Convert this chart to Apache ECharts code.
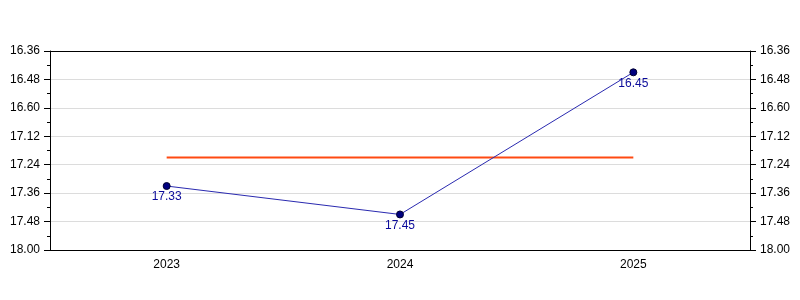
<!DOCTYPE html>
<html><head><meta charset="utf-8">
<script src="https://cdn.jsdelivr.net/npm/echarts@6/dist/echarts.min.js"></script>
<style>html,body{margin:0;padding:0;background:#fff}#c{width:800px;height:300px}</style>
</head><body><div id="c"></div>
<script>
var categories = ['2023', '2024', '2025'];
var times = [17.33, 17.45, 16.45];          // mm.ss
var targetTime = [17.21, 17.21, 17.21];     // mm.ss
var tickLabels = ['16.36', '16.48', '16.60', '17.12', '17.24', '17.36', '17.48', '18.00'];
var yMinSec = 996, yMaxSec = 1080, yStepSec = 12;

function toSec(v) { var m = Math.floor(v); return m * 60 + Math.round((v - m) * 100); }
var timeSec = times.map(toSec);
var targetSec = targetTime.map(toSec);

function fmt(v) {
  var i = Math.round((v - yMinSec) / yStepSec);
  return tickLabels[i] !== undefined ? tickLabels[i] : '';
}
var font = 'Liberation Sans, Arial, sans-serif';
function yAxis(pos) {
  return {
    type: 'value', position: pos, inverse: true,
    min: yMinSec, max: yMaxSec, interval: yStepSec,
    axisLine: { show: true, lineStyle: { color: '#000', width: 1 } },
    axisTick: { show: true, inside: false, length: 6, lineStyle: { color: '#000' } },
    minorTick: { show: true, splitNumber: 2, length: 3, lineStyle: { color: '#000' } },
    splitLine: { show: pos === 'left', lineStyle: { color: '#dcdcdc', width: 1 } },
    axisLabel: { formatter: fmt, color: '#000', fontSize: 12, fontFamily: font, margin: 10 }
  };
}
var chart = echarts.init(document.getElementById('c'), null, { renderer: 'canvas' });
chart.setOption({
  animation: false,
  backgroundColor: '#fff',
  grid: { left: 50, right: 50, top: 51, bottom: 50 },
  xAxis: [{
    type: 'category', data: categories, boundaryGap: true,
    axisLine: { lineStyle: { color: '#000' } },
    axisTick: { alignWithLabel: true, length: 5, lineStyle: { color: '#000' } },
    axisLabel: { color: '#000', fontSize: 12, fontFamily: font, margin: 9 }
  }, {
    type: 'category', data: categories, position: 'top',
    axisLine: { show: true, lineStyle: { color: '#000' } },
    axisTick: { show: false }, axisLabel: { show: false }, splitLine: { show: false }
  }],
  yAxis: [yAxis('left'), yAxis('right')],
  series: [
    {
      type: 'line', data: targetSec, yAxisIndex: 0,
      showSymbol: false, symbol: 'none',
      lineStyle: { color: '#ff4a12', width: 2 }, z: 2
    },
    {
      type: 'line', data: timeSec, yAxisIndex: 0,
      symbol: 'circle', symbolSize: 7,
      itemStyle: { color: '#000080', borderColor: '#000030', borderWidth: 1 },
      lineStyle: { color: '#2a2ab0', width: 1 },
      label: {
        show: true, position: 'bottom', distance: 1,
        color: '#0a0a9a', fontSize: 12, fontFamily: font,
        formatter: function (p) { return times[p.dataIndex].toFixed(2); }
      }, z: 3
    }
  ]
});
</script></body></html>
